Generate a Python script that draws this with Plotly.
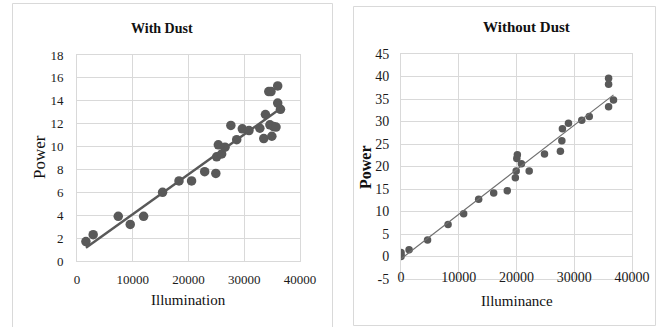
import numpy as np
import plotly.graph_objects as go

# ---- data: With Dust ----
dust_illum = [1600, 2900, 7400, 9550, 11950, 15350, 18300, 20550, 22900, 24900,
              25050, 25350, 25950, 26550, 27600, 28650, 29650, 30850, 32800, 33500,
              33800, 34400, 34800, 34950, 34600, 35250, 35700, 36000, 36000, 36500]
dust_power = [1.7, 2.3, 3.9, 3.2, 3.9, 6.0, 7.0, 7.0, 7.8, 7.65,
              9.1, 10.15, 9.35, 9.95, 11.85, 10.6, 11.55, 11.4, 11.6, 10.7,
              12.8, 14.8, 14.8, 10.9, 11.9, 11.75, 11.7, 15.3, 13.8, 13.25]

# ---- data: Without Dust ----
clean_illum = [0, 0, 0, 1400, 4600, 8150, 10850, 13450, 16050, 18400,
               19800, 19950, 20050, 20150, 20850, 22200, 24850, 27600, 27850, 27950,
               29000, 31300, 32600, 35950, 35950, 35950, 36800]
clean_power = [0.0, 0.4, 0.9, 1.5, 3.65, 7.1, 9.5, 12.7, 14.1, 14.6,
               17.5, 19.0, 21.8, 22.6, 20.6, 19.0, 22.8, 23.4, 25.7, 28.4,
               29.6, 30.3, 31.1, 33.3, 38.3, 39.6, 34.8]

x_ticks = [0, 10000, 20000, 30000, 40000]
x_tick_labels = ["0", "10000", "20000", "30000", "40000"]
y_ticks_dust = [0, 2, 4, 6, 8, 10, 12, 14, 16, 18]
y_ticks_clean = [-5, 0, 5, 10, 15, 20, 25, 30, 35, 40, 45]
y_tick_labels_clean = ["-5", "0", "5", "10", "15", "20", "25", "30", "35", "40", "45"]

W, H = 659, 327
def px(x): return x / W
def py(y): return 1 - y / H

# linear trendlines (least squares, as in the original spreadsheet charts)
m1, b1 = np.polyfit(dust_illum, dust_power, 1)
m2, b2 = np.polyfit(clean_illum, clean_power, 1)
t1x = [min(dust_illum), max(dust_illum)]
t2x = [min(clean_illum), max(clean_illum)]

FONT = "Liberation Serif"
MK = "#595959"
GRID = "#d9d9d9"

fig = go.Figure()
fig.add_trace(go.Scatter(x=dust_illum, y=dust_power, mode="markers",
                         marker=dict(color=MK, size=9.5), xaxis="x", yaxis="y",
                         showlegend=False))
fig.add_trace(go.Scatter(x=t1x, y=[m1 * v + b1 for v in t1x], mode="lines",
                         line=dict(color=MK, width=2.5), xaxis="x", yaxis="y",
                         showlegend=False))
fig.add_trace(go.Scatter(x=clean_illum, y=clean_power, mode="markers",
                         marker=dict(color=MK, size=7.5), xaxis="x2", yaxis="y2",
                         showlegend=False))
fig.add_trace(go.Scatter(x=t2x, y=[m2 * v + b2 for v in t2x], mode="lines",
                         line=dict(color="#6f6f6f", width=1.2), xaxis="x2", yaxis="y2",
                         showlegend=False))

axcommon = dict(showgrid=True, gridcolor=GRID, gridwidth=1, zeroline=False,
                showline=True, linecolor=GRID, linewidth=1, mirror=True,
                automargin=False, ticks="",
                tickfont=dict(family=FONT, size=13, color="#1a1a1a"))

def ann(text, x, y, size, angle=0):
    return dict(text=text, x=px(x), y=py(y), xref="paper", yref="paper",
                xanchor="center", yanchor="middle", textangle=angle,
                showarrow=False, font=dict(family=FONT, size=size, color="#111"))

fig.update_layout(
    template="none",
    width=W, height=H, margin=dict(l=0, r=0, t=0, b=0, pad=0),
    paper_bgcolor="white", plot_bgcolor="white",
    xaxis=dict(axcommon, domain=[px(77), px(300)], range=[0, 40000],
               tickvals=x_ticks, ticktext=x_tick_labels, anchor="y",
               ticklabelstandoff=6),
    yaxis=dict(axcommon, domain=[py(261), py(55)], range=[0, 18],
               tickvals=y_ticks_dust, anchor="x", ticklabelstandoff=10),
    xaxis2=dict(axcommon, domain=[px(401), px(632)], range=[0, 40000],
                tickvals=x_ticks, ticktext=x_tick_labels, anchor="y2",
                ticklabelstandoff=-15,
                tickfont=dict(family=FONT, size=14, color="#1a1a1a")),
    yaxis2=dict(axcommon, domain=[py(279), py(54)], range=[-5, 45],
                tickvals=y_ticks_clean, ticktext=y_tick_labels_clean, anchor="x2",
                ticklabelstandoff=8,
                tickfont=dict(family=FONT, size=14, color="#1a1a1a")),
    shapes=[
        dict(type="rect", xref="paper", yref="paper", x0=px(12.5), x1=px(332.5),
             y0=py(330), y1=py(3.5), line=dict(color="#d9d9d9", width=1)),
        dict(type="rect", xref="paper", yref="paper", x0=px(353.5), x1=px(655.5),
             y0=py(325.5), y1=py(6.5), line=dict(color="#d9d9d9", width=1)),
    ],
    annotations=[
        ann("<b>With Dust</b>", 162, 29, 14),
        ann("<b>Without Dust</b>", 526, 27, 15),
        ann("Illumination", 188.5, 300, 15),
        ann("Illuminance", 517, 301, 15),
        ann("Power", 40, 157, 17, -90),
        ann("<b>Power</b>", 365, 167, 16, -90),
    ],
)

fig.write_html("out.html", config={"displayModeBar": False},
               post_script="document.body.style.margin='0';document.body.style.overflow='hidden';")
